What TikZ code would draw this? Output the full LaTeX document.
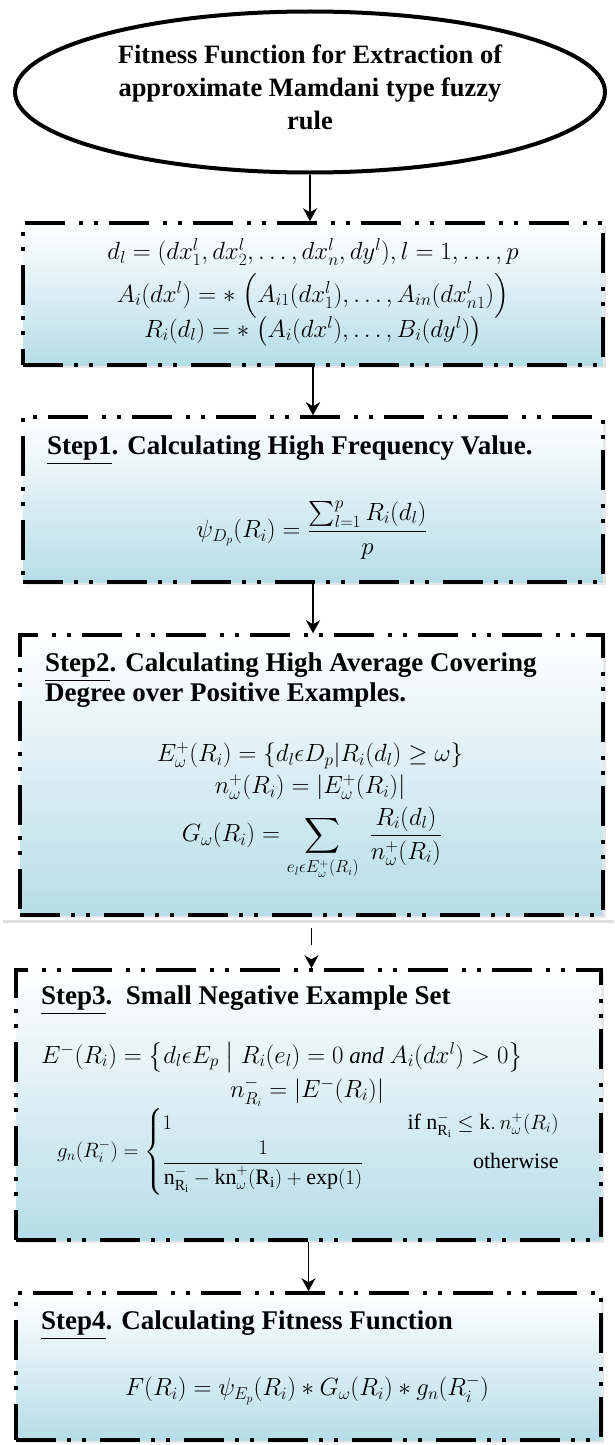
\documentclass[tikz,border=0pt]{standalone}
\usepackage{fontspec}
\setmainfont{Liberation Serif}
\usepackage{amsmath}
\usetikzlibrary{shapes.geometric,arrows.meta,shadows}
\definecolor{boxblue}{HTML}{B6DDE8}

\begin{document}
\begin{tikzpicture}[x=1pt,y=-1pt]
  % Styles
  \tikzset{
    stepbox/.style={draw=black, line width=3.5pt,
      dash pattern=on 40pt off 11pt on 4pt off 11pt on 4pt off 14pt,
      top color=white, bottom color=boxblue, inner sep=0pt,
      drop shadow={shadow xshift=3pt, shadow yshift=-3pt, fill=gray!35}},
    head/.style={anchor=west, inner sep=0pt, align=left,
      font=\fontsize{27}{30}\selectfont\bfseries},
    eq/.style={inner sep=0pt, font=\fontsize{24}{28}\selectfont},
    eqs/.style={eq, font=\fontsize{23}{27}\selectfont},
    arr/.style={line width=1.8pt, -{Stealth[length=13pt,width=14pt,inset=4pt]}},
  }
  \useasboundingbox (0,0) rectangle (614,1445);

  % Titre
  \node[ellipse, draw, line width=4pt, minimum width=590pt, minimum height=161pt,
        inner sep=0pt] (title) at (310,92) {};
  \node[align=center, inner sep=0pt, font=\fontsize{26.5}{33}\selectfont\bfseries]
    (titletext) at (310,87) {Fitness Function for Extraction of\\approximate Mamdani type fuzzy\\rule};

  % Cadres des etapes
  \node[stepbox, minimum width=580pt, minimum height=142pt] (init)  at (313,294)    {};
  \node[stepbox, minimum width=580pt, minimum height=165pt] (step1) at (313,499.5)  {};
  \node[stepbox, minimum width=583pt, minimum height=280pt] (step2) at (311.5,775)  {};
  \node[stepbox, minimum width=585pt, minimum height=270pt] (step3) at (308.5,1105) {};
  \node[stepbox, minimum width=585pt, minimum height=147pt] (step4) at (308.5,1366.5) {};

  % Trait gris
  \draw[gray!25, line width=3pt] (3,921) -- (614,921);

  % Fleches
  \draw[arr] (title.south) -- (title.south |- init.north);
  \draw[arr] (init.south) -- (init.south |- step1.north);
  \draw[arr] (step1.south) -- (step1.south |- step2.north);
  \draw[arr, dash pattern=on 0pt off 11pt on 17pt off 40pt] (step2.south) -- (step2.south |- step3.north);
  \draw[arr] (step3.south) -- (step3.south |- step4.north);

  % Donnees
  \node[eqs] (dl) at (313,252) {$d_l = (dx_1^l, dx_2^l, \dots, dx_n^l, dy^l), l = 1, \dots, p$};
  \node[eqs] (ai) at (313,296) {$A_i(dx^l) \mathrel{=\ast} \Bigl(A_{i1}(dx_1^l), \dots, A_{in}(dx_{n1}^l)\Bigr)$};
  \node[eqs] (ri) at (313,331) {$R_i(d_l) \mathrel{=\ast} \bigl(A_i(dx^l), \dots, B_i(dy^l)\bigr)$};

  % Etape 1
  \node[head] (h1) at (47,450) {\underline{Step1}. Calculating High Frequency Value.};
  \node[eq] (psi) at (312,530) {$\psi_{D_p}(R_i) = \dfrac{\sum_{l=1}^{p} R_i(d_l)}{p}$};

  % Etape 2
  \node[head] (h2) at (45,680) {\underline{Step2}. Calculating High Average Covering\\Degree over Positive Examples.};
  \node[eq] (ep) at (310,756) {$E_\omega^+(R_i) = \{d_l \epsilon D_p | R_i(d_l) \geq \omega\}$};
  \node[eq] (np) at (310,787) {$n_\omega^+(R_i) = |E_\omega^+(R_i)|$};
  \node[eq] (gw) at (312,843) {$\displaystyle G_\omega(R_i) = \sum_{e_l \epsilon E_\omega^+(R_i)} \; \frac{R_i(d_l)}{n_\omega^+(R_i)}$};

  % Etape 3
  \node[head] (h3) at (41,1000) {\underline{Step3}.\ \ Small Negative Example Set};
  \node[eqs, anchor=west] (en) at (41,1057) {$E^-(R_i) = \bigl\{d_l \epsilon E_p \bigm| R_i(e_l) = 0 \ \mathit{and}\ A_i(dx^l) > 0\bigr\}$};
  \node[eq] (nr) at (307,1092) {$n_{R_i}^- = |E^-(R_i)|$};
  \node[eq, anchor=west, font=\fontsize{22}{26}\selectfont] (gn) at (57,1152) {$g_n(R_i^-) = \left\{\begin{array}{@{}l@{\hspace{44pt}}r@{}}
      1 & \text{if } \mathrm{n}^-_{\mathrm{R_i}} \leq \mathrm{k}.\, n_\omega^+(R_i)\\[4pt]
      \dfrac{1}{\mathrm{n}^-_{\mathrm{R_i}} - \mathrm{kn}^+_\omega(\mathrm{R_i}) + \exp(1)} & \text{otherwise}
    \end{array}\right.$};

  % Etape 4
  \node[head] (h4) at (41,1325) {\underline{Step4}. Calculating Fitness Function};
  \node[eq] (fr) at (307,1390) {$F(R_i) = \psi_{E_p}(R_i) \ast G_\omega(R_i) \ast g_n(R_i^-)$};
\end{tikzpicture}
\end{document}
